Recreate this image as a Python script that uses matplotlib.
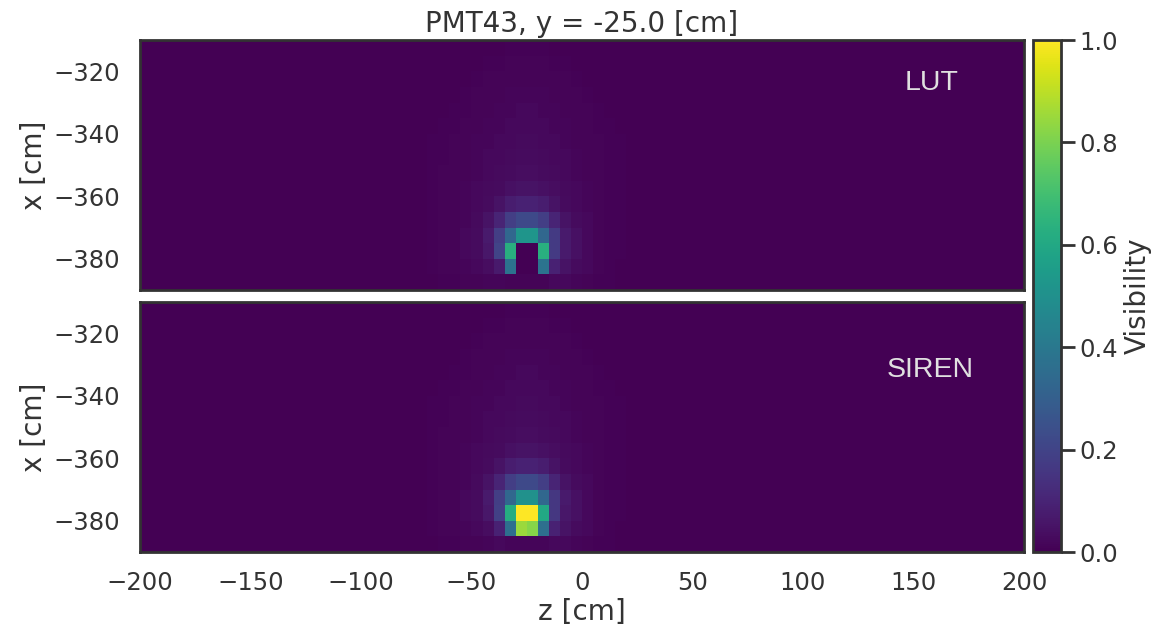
import matplotlib
matplotlib.use("Agg")
import matplotlib.pyplot as plt
import numpy as np

# grid: 5 cm cells, z from -200 to 200, x from -390 to -310
z_edges = np.arange(-200, 205, 5)
x_edges = np.arange(-390, -305, 5)

# visibility (in %) around the PMT, columns z = -75 ... 25, rows x = -310 (top) ... -390 (bottom)
patch_z0 = -75
lut_patch = [
    [0, 0, 0, 0, 0, 0, 0, 0, 0.5, 0.5, 0.5, 0.5, 0, 0, 0, 0, 0, 0, 0, 0],
    [0, 0, 0, 0, 0, 0, 0.5, 0.5, 1, 1, 1, 1, 0.5, 0.5, 0, 0, 0, 0, 0, 0],
    [0, 0, 0, 0, 0, 0.5, 1, 1, 1, 1, 1, 1, 1, 1, 0.5, 0, 0, 0, 0, 0],
    [0, 0, 0, 0, 0.5, 1, 1, 1, 1.5, 1.5, 1.5, 1.5, 1, 1, 1, 0.5, 0, 0, 0, 0],
    [0, 0, 0, 0.5, 0.5, 1, 1, 1.5, 1.5, 2, 2, 1.5, 1.5, 1, 1, 1, 0.5, 0, 0, 0],
    [0, 0, 0.5, 0.5, 1, 1, 1.5, 1.5, 2, 2, 2, 2, 1.5, 1.5, 1, 1, 0.5, 0.5, 0, 0],
    [0, 0.5, 0.5, 1, 1, 1.5, 1.5, 2, 2, 2.5, 2.5, 2, 2, 1.5, 1, 1, 1, 0.5, 0.5, 0],
    [0, 0.5, 0.5, 1, 1, 1.5, 2, 2, 2.5, 3, 3, 2.5, 2, 2, 1.5, 1, 1, 0.5, 0.5, 0],
    [0, 0.5, 1, 1, 1, 1.5, 2, 2.5, 3, 3.5, 3.5, 3, 2.5, 2, 1.5, 1, 1, 0.5, 0.5, 0],
    [0, 0.5, 1, 1, 1.5, 2, 2.5, 3, 4, 5, 5, 4, 3.5, 2.5, 2, 1.5, 1, 0.5, 0.5, 0],
    [0, 0.5, 1, 1, 1.5, 2, 3, 5, 8, 9, 9, 8, 5, 3, 2, 1.5, 1, 0.5, 0.5, 0],
    [0, 0.5, 1, 1, 1.5, 2.5, 5, 10, 18, 22, 22, 18, 10, 5, 3, 2, 1, 0.5, 0.5, 0],
    [0, 0.5, 1, 1, 2, 3, 7, 18, 33, 52, 52, 33, 17, 7, 4, 2, 1, 0.5, 0.5, 0],
    [0, 0.5, 1, 1, 2, 3, 6, 20, 63, 0, 0, 63, 17, 7, 4, 2, 1, 0.5, 0.5, 0],
    [0, 0.5, 1, 1, 1.5, 2, 3.5, 7, 38, 0, 0, 38, 9, 5, 3, 2, 1, 0.5, 0, 0],
    [0, 0, 0.5, 0.5, 1, 1, 1.5, 1.5, 1, 1, 1, 1, 2, 2, 1.5, 1, 0.5, 0.5, 0, 0],
]
siren_patch = [
    [0, 0, 0, 0, 0, 0, 0, 0, 0.5, 0.5, 0.5, 0.5, 0, 0, 0, 0, 0, 0, 0, 0],
    [0, 0, 0, 0, 0, 0, 0.5, 0.5, 1, 1, 1, 1, 0.5, 0.5, 0, 0, 0, 0, 0, 0],
    [0, 0, 0, 0, 0, 0.5, 1, 1, 1, 1, 1, 1, 1, 1, 0.5, 0, 0, 0, 0, 0],
    [0, 0, 0, 0, 0.5, 1, 1, 1, 1.5, 1.5, 1.5, 1.5, 1, 1, 1, 0.5, 0, 0, 0, 0],
    [0, 0, 0, 0.5, 0.5, 1, 1, 1.5, 1.5, 2, 2, 1.5, 1.5, 1, 1, 1, 0.5, 0, 0, 0],
    [0, 0, 0.5, 0.5, 1, 1, 1.5, 1.5, 2, 2, 2, 2, 1.5, 1.5, 1, 1, 0.5, 0.5, 0, 0],
    [0, 0.5, 0.5, 1, 1, 1.5, 1.5, 2, 2, 2.5, 2.5, 2, 2, 1.5, 1, 1, 1, 0.5, 0.5, 0],
    [0, 0.5, 0.5, 1, 1, 1.5, 2, 2, 2.5, 3, 3, 2.5, 2, 2, 1.5, 1, 1, 0.5, 0.5, 0],
    [0, 0.5, 1, 1, 1, 1.5, 2, 2.5, 3, 3.5, 3.5, 3, 2.5, 2, 1.5, 1, 1, 0.5, 0.5, 0],
    [0, 0.5, 1, 1, 1.5, 2, 2.5, 3, 4, 5, 5, 4, 3.5, 2.5, 2, 1.5, 1, 0.5, 0.5, 0],
    [0, 0.5, 1, 1, 1.5, 2, 3, 5, 8, 9, 9, 8, 5, 3, 2, 1.5, 1, 0.5, 0.5, 0],
    [0, 0.5, 1, 1, 1.5, 2.5, 5, 10, 18, 22, 22, 18, 10, 5, 3, 2, 1, 0.5, 0.5, 0],
    [0, 0.5, 1, 1, 2, 3, 7, 18, 33, 50, 50, 33, 16, 7, 4, 2, 1, 0.5, 0.5, 0],
    [0, 0.5, 1, 1, 2, 3, 6, 19, 62, 100, 100, 60, 16, 6, 4, 2, 1, 0.5, 0.5, 0],
    [0, 0.5, 1, 1, 1.5, 2, 3.5, 9, 36, 85, 82, 36, 9, 5, 3, 2, 1, 0.5, 0, 0],
    [0, 0, 0.5, 0.5, 1, 1, 1.5, 2, 1.5, 1.5, 1.5, 1.5, 2, 2, 1.5, 1, 0.5, 0.5, 0, 0],
]
labels = ["LUT", "SIREN"]
pmt_title = "PMT43, y = -25.0 [cm]"


def full_grid(patch):
    grid = np.zeros((len(x_edges) - 1, len(z_edges) - 1))
    p = np.array(patch, dtype=float) / 100.0
    c0 = int((patch_z0 - z_edges[0]) / 5)
    grid[:, c0:c0 + p.shape[1]] = p
    return grid[::-1]  # rows go bottom -> top for pcolormesh


text_col = "#333333"
spine_col = "#333333"
plt.rcParams["font.family"] = "DejaVu Sans"

fig = plt.figure(figsize=(11.53, 6.35), dpi=100)
ax1 = fig.add_axes([0.1214, 0.5433, 0.7667, 0.3937])
ax2 = fig.add_axes([0.1214, 0.1307, 0.7667, 0.3937])
cax = fig.add_axes([0.8959, 0.1307, 0.0243, 0.8063])

text_pos = [(0.896, 0.828), (0.894, 0.728)]
for ax, patch, lab, pos in zip([ax1, ax2], [lut_patch, siren_patch], labels, text_pos):
    mesh = ax.pcolormesh(z_edges, x_edges, full_grid(patch), cmap="viridis",
                         vmin=0, vmax=1, shading="flat")
    ax.set_xlim(-200, 200)
    ax.set_ylim(-390, -310)
    ax.set_yticks([-380, -360, -340, -320])
    ax.set_xticks(np.arange(-200, 250, 50))
    ax.tick_params(length=0, pad=14, labelsize=17.5, colors=text_col)
    ax.set_ylabel("x [cm]", fontsize=20, color=text_col, labelpad=4)
    for s in ax.spines.values():
        s.set_color(spine_col)
        s.set_linewidth(2)
    ax.text(pos[0], pos[1], lab, transform=ax.transAxes, ha="center", va="center",
            fontsize=20.5, color="#e0e0e0", family="Liberation Sans")

ax1.tick_params(labelbottom=False)
ax2.set_xlabel("z [cm]", fontsize=20, color=text_col, labelpad=2)
ax1.set_title(pmt_title, fontsize=20, color=text_col, pad=6)

cb = fig.colorbar(mesh, cax=cax)
cb.set_ticks([0.0, 0.2, 0.4, 0.6, 0.8, 1.0])
cb.ax.tick_params(length=10, width=2, pad=3, labelsize=17.5, colors=text_col)
cb.outline.set_edgecolor(spine_col)
cb.outline.set_linewidth(2)
cb.set_label("Visibility", fontsize=20, color=text_col, labelpad=4)

fig.savefig("out.png", dpi=100)
